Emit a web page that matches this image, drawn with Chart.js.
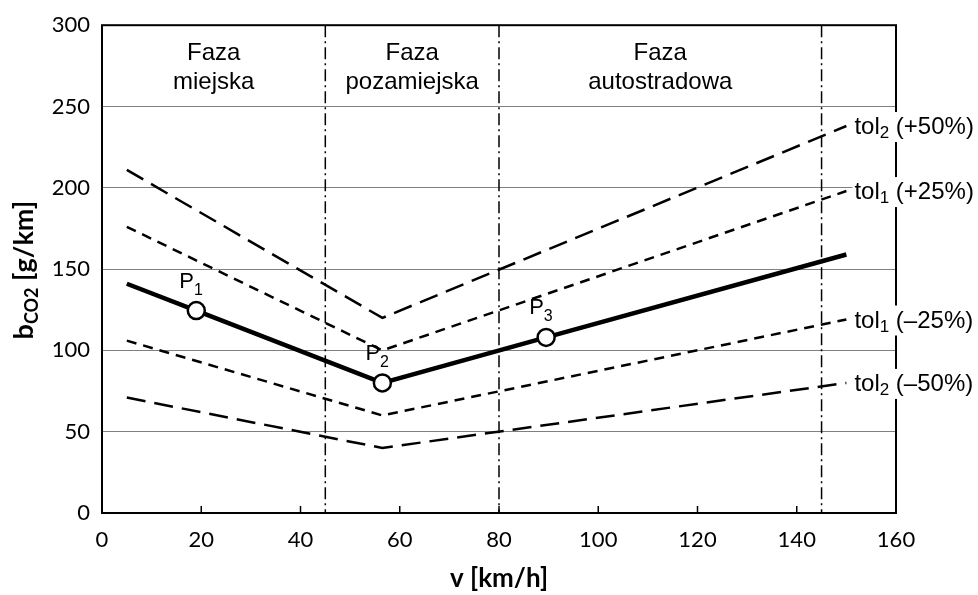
<!DOCTYPE html>
<html>
<head>
<meta charset="utf-8">
<script src="https://cdn.jsdelivr.net/npm/chart.js@4"></script>
<style>
  html, body { margin: 0; padding: 0; background: #fff; }
  #wrap { width: 978px; height: 595px; position: relative; }
</style>
</head>
<body>
<div id="wrap"><canvas id="chart"></canvas></div>
<script>
// Data
const speedMain = [5, 19, 56.5, 89.5, 150];
const co2Main = [141, 124.5, 80, 108, 159];
const pointNames = ['', '1', '2', '3', ''];
const speedTol = [5, 56.5, 150];
const tol2Plus = [211, 120, 238];
const tol1Plus = [176, 100, 198];
const tol1Minus = [106, 60, 119];
const tol2Minus = [71, 40, 80];
const tolNames = [['2', '(+50%)'], ['1', '(+25%)'], ['1', '(\u201325%)'], ['2', '(\u201350%)']];
const phaseBorders = [45, 80, 145];
const phaseLabels = [['Faza', 'miejska'], ['Faza', 'pozamiejska'], ['Faza', 'autostradowa']];
const xTicks = [0, 20, 40, 60, 80, 100, 120, 140, 160];
const yTicks = [0, 50, 100, 150, 200, 250, 300];

const toXY = (xs, ys) => xs.map((x, i) => ({ x: x, y: ys[i] }));
const tolSeries = [tol2Plus, tol1Plus, tol1Minus, tol2Minus];
const LONG = [19, 9];
const SHORT = [10, 7];

const textFont = '"Liberation Sans", Arial, sans-serif';
const tickFont = 'Lato, "Open Sans", sans-serif';

// Phase borders, frame, inner ticks, labels
const decorations = {
  id: 'decorations',
  beforeDatasetsDraw(chart) {
    const { ctx, chartArea: a, scales: { x } } = chart;
    ctx.save();
    ctx.strokeStyle = '#000';
    ctx.lineWidth = 1.5;
    ctx.setLineDash([12, 4, 2, 4]);
    phaseBorders.forEach(v => {
      const px = x.getPixelForValue(v);
      ctx.beginPath();
      ctx.moveTo(px, a.top);
      ctx.lineTo(px, a.bottom);
      ctx.stroke();
    });
    ctx.restore();
  },
  afterDatasetsDraw(chart) {
    const { ctx, chartArea: a, scales: { x, y } } = chart;
    ctx.save();
    // frame
    ctx.strokeStyle = '#000';
    ctx.lineWidth = 2;
    ctx.strokeRect(a.left, a.top, a.right - a.left, a.bottom - a.top);
    // inner x ticks
    ctx.lineWidth = 1.5;
    xTicks.forEach(v => {
      const px = x.getPixelForValue(v);
      ctx.beginPath();
      ctx.moveTo(px, a.bottom);
      ctx.lineTo(px, a.bottom - 7);
      ctx.stroke();
    });

    // phase labels
    ctx.fillStyle = '#000';
    ctx.font = '24px ' + textFont;
    ctx.textAlign = 'center';
    ctx.textBaseline = 'middle';
    const edges = [x.min].concat(phaseBorders);
    phaseLabels.forEach((lines, i) => {
      const cx = (x.getPixelForValue(edges[i]) + x.getPixelForValue(edges[i + 1])) / 2;
      ctx.fillText(lines[0], cx, a.top + 28);
      ctx.fillText(lines[1], cx, a.top + 57);
    });

    // point labels P1..P3
    ctx.textAlign = 'left';
    ctx.textBaseline = 'alphabetic';
    speedMain.forEach((v, i) => {
      if (!pointNames[i]) return;
      const px = x.getPixelForValue(v) - 17;
      const py = y.getPixelForValue(co2Main[i]) - 23;
      ctx.font = '22px ' + textFont;
      ctx.fillText('P', px, py);
      const w = ctx.measureText('P').width;
      ctx.font = '16px ' + textFont;
      ctx.fillText(pointNames[i], px + w, py + 7);
    });

    // tolerance labels at line ends
    tolSeries.forEach((s, i) => {
      const last = s.length - 1;
      const px = x.getPixelForValue(speedTol[last]) + 8;
      const py = y.getPixelForValue(s[last]) + 8;
      ctx.font = '24px ' + textFont;
      const w1 = ctx.measureText('tol').width;
      ctx.font = '17px ' + textFont;
      const w2 = ctx.measureText(tolNames[i][0]).width;
      ctx.font = '24px ' + textFont;
      const w3 = ctx.measureText(' ' + tolNames[i][1]).width;
      ctx.fillStyle = '#fff';
      ctx.fillRect(px - 2, py - 22, w1 + w2 + w3 + 4, 30);
      ctx.fillStyle = '#000';
      ctx.fillText('tol', px, py);
      ctx.font = '17px ' + textFont;
      ctx.fillText(tolNames[i][0], px + w1, py + 4);
      ctx.font = '24px ' + textFont;
      ctx.fillText(' ' + tolNames[i][1], px + w1 + w2, py);
    });

    // axis titles
    ctx.font = 'bold 26px ' + tickFont;
    ctx.textAlign = 'center';
    ctx.fillText('v [km/h]', (a.left + a.right) / 2, 587);

    ctx.translate(33, (a.top + a.bottom) / 2 + 1);
    ctx.rotate(-Math.PI / 2);
    ctx.font = 'bold 27px ' + tickFont;
    const bW = ctx.measureText('b').width;
    ctx.font = 'bold 18px ' + tickFont;
    const sW = ctx.measureText('CO2').width;
    ctx.font = 'bold 27px ' + tickFont;
    const rW = ctx.measureText(' [g/km]').width;
    const sx = -(bW + sW + rW) / 2;
    ctx.textAlign = 'left';
    ctx.fillText('b', sx, 0);
    ctx.font = 'bold 18px ' + tickFont;
    ctx.fillText('CO2', sx + bW, 5);
    ctx.font = 'bold 27px ' + tickFont;
    ctx.fillText(' [g/km]', sx + bW + sW, 0);
    ctx.restore();
  }
};

const tolStyle = (data, dash) => ({
  data: data,
  borderColor: '#000',
  borderWidth: 2.5,
  borderDash: dash,
  pointRadius: 0,
  fill: false,
  tension: 0
});

new Chart(document.getElementById('chart'), {
  type: 'line',
  data: {
    datasets: [
      tolStyle(toXY(speedTol, tol2Plus), LONG),
      tolStyle(toXY(speedTol, tol1Plus), SHORT),
      tolStyle(toXY(speedTol, tol1Minus), SHORT),
      tolStyle(toXY(speedTol, tol2Minus), LONG),
      {
        data: toXY(speedMain, co2Main),
        borderColor: '#000',
        borderWidth: 4.5,
        pointRadius: pointNames.map(n => n ? 8.5 : 0),
        pointBackgroundColor: '#fff',
        pointBorderColor: '#000',
        pointBorderWidth: 2.5,
        fill: false,
        tension: 0
      }
    ]
  },
  options: {
    responsive: true,
    maintainAspectRatio: false,
    animation: false,
    layout: { padding: { top: 18, right: 82, left: 0, bottom: 0 } },
    plugins: { legend: { display: false }, tooltip: { enabled: false } },
    scales: {
      x: {
        type: 'linear',
        min: 0, max: 160,
        afterBuildTicks: s => { s.ticks = xTicks.map(v => ({ value: v })); },
        afterFit: s => { s.height = 82; },
        grid: { display: false, drawTicks: false },
        border: { display: false },
        ticks: { color: '#000', padding: 14, font: { family: tickFont, size: 22 } }
      },
      y: {
        min: 0, max: 300,
        afterBuildTicks: s => { s.ticks = yTicks.map(v => ({ value: v })); },
        afterFit: s => { s.width = 102; },
        grid: { color: '#808080', lineWidth: 1, drawTicks: false },
        border: { display: false },
        ticks: { color: '#000', padding: 12, font: { family: tickFont, size: 22 } }
      }
    }
  },
  plugins: [decorations]
});
</script>
</body>
</html>
